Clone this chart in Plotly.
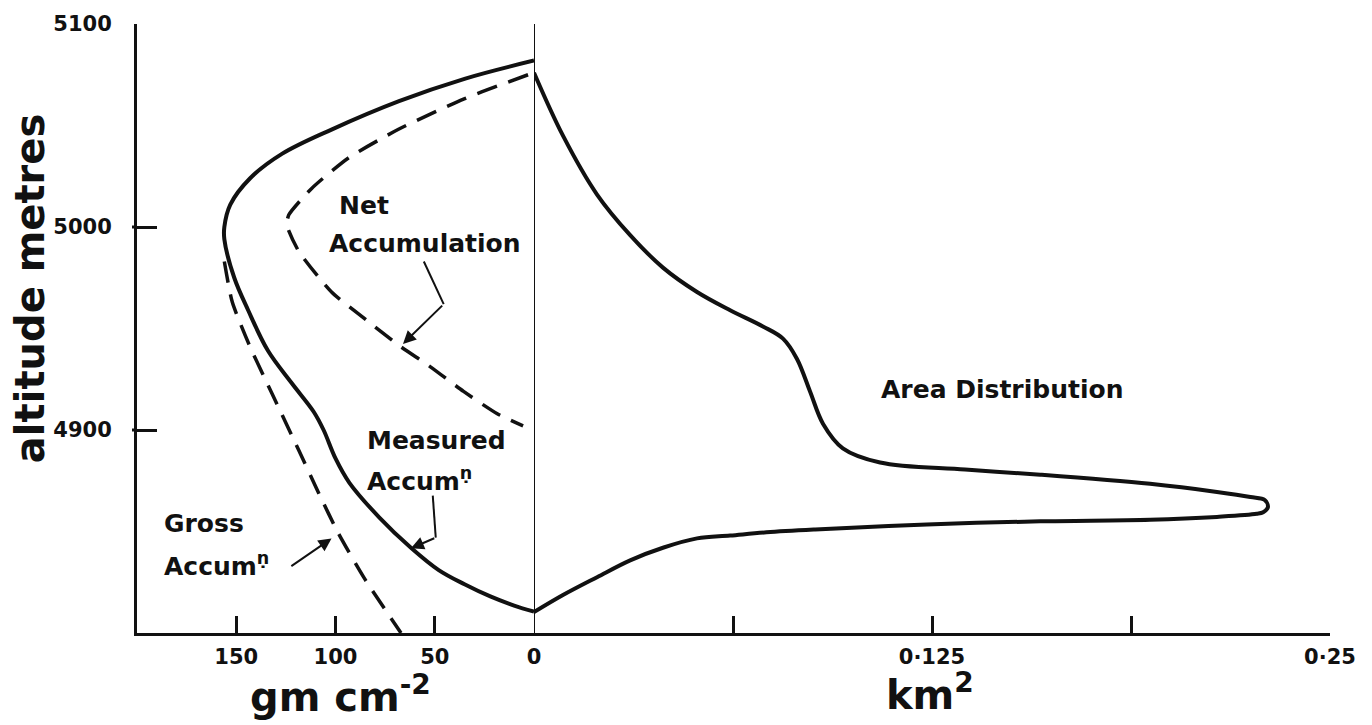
import plotly.graph_objects as go

# ---------------- data ----------------
# Left panel: accumulation (gm cm^-2) vs altitude (m)
measured_g   = [0, 35, 68, 102, 127, 143, 153, 156, 156, 151, 144, 134, 122, 111, 106, 100, 93, 78, 62, 48, 35, 22, 10, 0]
measured_alt = [5082, 5073, 5062, 5048, 5036, 5024, 5011, 5000, 4994, 4975, 4959, 4939, 4923, 4909, 4900, 4886,
                4874, 4857, 4842, 4831, 4824, 4818, 4813.5, 4810.5]

net_g   = [3, 35.5, 68.5, 93.5, 112, 123.5, 124.5, 118.5, 102, 85.5, 68.5, 52, 35.5, 18.5, 5.5]
net_alt = [5075, 5063, 5048, 5034, 5019, 5006, 5001, 4988, 4968, 4955, 4942, 4931, 4919, 4908, 4902]

gross_g   = [156, 152, 143.5, 132, 118.5, 108.5, 98.5, 85.5, 67]
gross_alt = [4983, 4963, 4942, 4918, 4890, 4869, 4849, 4827, 4800]

# Right panel: area distribution (km^2) vs altitude (m)
area_km2 = [0, 0.0091, 0.0198, 0.0302, 0.0405, 0.0512, 0.0616, 0.0719, 0.0782, 0.0826, 0.0867,
            0.0908, 0.097, 0.1087, 0.1354, 0.159, 0.1935, 0.2145, 0.225, 0.2295, 0.2305,
            0.229, 0.227, 0.2145, 0.1935, 0.159, 0.1234, 0.0883, 0.073, 0.0616, 0.0512,
            0.0405, 0.0302, 0.0198, 0.0091, 0]
area_alt = [5076, 5045, 5016, 4996, 4980, 4968, 4959, 4951, 4945, 4935, 4919,
            4903, 4891, 4884, 4880.5, 4878, 4873.5, 4869.5, 4867, 4865.5, 4862,
            4859.5, 4858.7, 4857.2, 4855.8, 4855, 4853.5, 4851, 4849.6, 4848, 4846.6,
            4842, 4835.8, 4827.5, 4818.7, 4810.3]

# axis ticks
y_ticks = [5100, 5000, 4900]
left_ticks = [150, 100, 50, 0]
left_labels = ["150", "100", "50", "0"]
right_ticks = [0.0625, 0.125, 0.1875, 0.25]
right_labels = ["", "0·125", "", "0·25"]

# ---------------- figure ----------------
FONT = "DejaVu Sans"
BLACK = "#111111"
W, H = 1372, 725
L, R, T, B = 137, 42, 22, 92
split = (534 - L) / (W - L - R)

fig = go.Figure()

fig.add_trace(go.Scatter(x=measured_g, y=measured_alt, mode="lines", xaxis="x", yaxis="y",
                         line=dict(color=BLACK, width=4, shape="spline", smoothing=1.0)))
fig.add_trace(go.Scatter(x=net_g, y=net_alt, mode="lines", xaxis="x", yaxis="y",
                         line=dict(color=BLACK, width=3.5, dash="21px,12px", shape="spline", smoothing=0.6)))
fig.add_trace(go.Scatter(x=gross_g, y=gross_alt, mode="lines", xaxis="x", yaxis="y",
                         line=dict(color=BLACK, width=3.5, dash="21px,12px", shape="spline", smoothing=0.6)))
fig.add_trace(go.Scatter(x=area_km2, y=area_alt, mode="lines", xaxis="x2", yaxis="y",
                         line=dict(color=BLACK, width=4, shape="spline", smoothing=1.0)))

# bent leader lines (first segments)
fig.add_trace(go.Scatter(x=[55.5, 45.5], y=[4983, 4962], mode="lines", xaxis="x", yaxis="y",
                         line=dict(color=BLACK, width=2)))
fig.add_trace(go.Scatter(x=[51, 49.5], y=[4867.7, 4847], mode="lines", xaxis="x", yaxis="y",
                         line=dict(color=BLACK, width=2)))

tickfont = dict(family=FONT, size=21, color=BLACK, weight="bold")
fig.update_layout(
    width=W, height=H,
    margin=dict(l=L, r=R, t=T, b=B),
    paper_bgcolor="white", plot_bgcolor="white",
    showlegend=False,
    xaxis=dict(domain=[0, split], range=[200, 0], anchor="y",
               showline=True, linecolor=BLACK, linewidth=3, showgrid=False, zeroline=False,
               ticks="inside", ticklen=17, tickwidth=2.5, tickcolor=BLACK,
               tickvals=left_ticks, ticktext=left_labels, ticklabelstandoff=3,
               tickfont=tickfont),
    xaxis2=dict(domain=[split, 1], range=[0, 0.25], anchor="y",
                showline=True, linecolor=BLACK, linewidth=3, showgrid=False, zeroline=False,
                ticks="inside", ticklen=17, tickwidth=2.5, tickcolor=BLACK,
                tickvals=right_ticks, ticktext=right_labels, ticklabelstandoff=3,
                tickfont=tickfont),
    yaxis=dict(range=[4800, 5100], anchor="x",
               showline=True, linecolor=BLACK, linewidth=3, showgrid=False, zeroline=False,
               ticks="inside", ticklen=20, tickwidth=3, tickcolor=BLACK,
               tickvals=y_ticks, ticklabelstandoff=18,
               tickfont=tickfont),
)

# divider at zero
fig.add_shape(type="line", xref="x2", yref="y", x0=0, x1=0, y0=4800, y1=5100,
              line=dict(color=BLACK, width=2))
# small outside stubs on the 5000/4900 ticks
for v in [5000, 4900]:
    fig.add_shape(type="line", xref="paper", yref="y", x0=-5 / (W - L - R), x1=0, y0=v, y1=v,
                  line=dict(color=BLACK, width=3))

lab = dict(family=FONT, size=25, color=BLACK, weight="bold")
def text(x, y, s, xref="x", xanchor="left", font=lab):
    fig.add_annotation(x=x, y=y, xref=xref, yref="y", text=s, showarrow=False,
                       xanchor=xanchor, yanchor="middle", font=font)

text(99.2, 5010.6, "Net")
text(104.3, 4992, "Accumulation")
text(85.1, 4894.7, "Measured")
text(85.1, 4875.6, "Accum<sup>ṇ</sup>")
text(187.4, 4854, "Gross")
text(187.4, 4833.9, "Accum<sup>ṇ</sup>")
text(0.147, 4919.8, "Area Distribution", xref="x2", xanchor="center")

def arrow(x0, y0, x1, y1):
    fig.add_annotation(x=x1, y=y1, ax=x0, ay=y0, xref="x", yref="y", axref="x", ayref="y",
                       showarrow=True, arrowhead=2, arrowsize=1.3, arrowwidth=2, arrowcolor=BLACK,
                       text="")

arrow(45.5, 4962, 66, 4942.4)
arrow(49.5, 4847, 62, 4841.7)
arrow(123, 4832.4, 102, 4846.6)

# axis titles
pw, ph = W - L - R, H - T - B
fig.add_annotation(x=(30 - L) / pw, y=(633 - 288) / ph, xref="paper", yref="paper",
                   text="altitude metres", textangle=-90, showarrow=False,
                   xanchor="center", yanchor="middle",
                   font=dict(family=FONT, size=40, color=BLACK, weight="bold"))
title_font = dict(family=FONT, size=40, color=BLACK, weight="bold")
fig.add_annotation(x=(340 - L) / pw, y=(633 - 694) / ph, xref="paper", yref="paper",
                   text="gm cm<sup>-2</sup>", showarrow=False,
                   xanchor="center", yanchor="middle", font=title_font)
fig.add_annotation(x=(930 - L) / pw, y=(633 - 692) / ph, xref="paper", yref="paper",
                   text="km<sup>2</sup>", showarrow=False,
                   xanchor="center", yanchor="middle", font=title_font)

fig.write_html("out.html")
